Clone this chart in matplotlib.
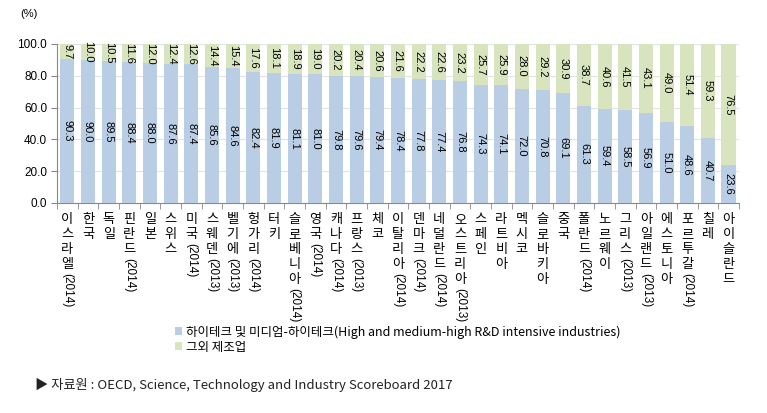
import matplotlib
matplotlib.use("Agg")
import matplotlib.pyplot as plt
import numpy as np
from matplotlib.patches import Patch

plt.rcParams['font.family'] = ['Liberation Sans', 'Noto Sans CJK KR', 'DejaVu Sans']

countries = ["이스라엘(2014)", "한국", "독일", "핀란드(2014)", "일본", "스위스", "미국(2014)",
             "스웨덴(2013)", "벨기에(2013)", "헝가리(2014)", "터키", "슬로베니아(2014)", "영국(2014)",
             "캐나다(2014)", "프랑스(2013)", "체코", "이탈리아(2014)", "덴마크(2014)", "네덜란드(2014)",
             "오스트리아(2013)", "스페인", "라트비아", "멕시코", "슬로바키아", "중국", "폴란드(2014)",
             "노르웨이", "그리스(2013)", "아일랜드(2013)", "에스토니아", "포르투갈(2014)", "칠레", "아이슬란드"]
high_tech = [90.3, 90.0, 89.5, 88.4, 88.0, 87.6, 87.4, 85.6, 84.6, 82.4, 81.9, 81.1, 81.0, 79.8,
             79.6, 79.4, 78.4, 77.8, 77.4, 76.8, 74.3, 74.1, 72.0, 70.8, 69.1, 61.3, 59.4, 58.5,
             56.9, 51.0, 48.6, 40.7, 23.6]
other_mfg = [9.7, 10.0, 10.5, 11.6, 12.0, 12.4, 12.6, 14.4, 15.4, 17.6, 18.1, 18.9, 19.0, 20.2,
             20.4, 20.6, 21.6, 22.2, 22.6, 23.2, 25.7, 25.9, 28.0, 29.2, 30.9, 38.7, 40.6, 41.5,
             43.1, 49.0, 51.4, 59.3, 76.5]
yticks = [0, 20, 40, 60, 80, 100]
legend_labels = ["하이테크 및 미디엄-하이테크(High and medium-high R&D intensive industries)", "그외 제조업"]
source_text = "▶ 자료원 : OECD, Science, Technology and Industry Scoreboard 2017"

c_blue = "#b9cde5"
c_green = "#d7e4bd"
kr = ['Noto Sans CJK KR', 'DejaVu Sans']

fig = plt.figure(figsize=(7.67, 4.13), dpi=100)
ax = fig.add_axes([0.0743, 0.5085, 0.889, 0.385])

x = np.arange(len(countries))
ax.bar(x, high_tech, width=0.68, color=c_blue, zorder=3)
ax.bar(x, other_mfg, width=0.68, bottom=high_tech, color=c_green, zorder=3)

for i, (a, b) in enumerate(zip(high_tech, other_mfg)):
    ax.text(i, a / 2, f"{a:.1f}", rotation=270, ha='center', va='center', fontsize=8, zorder=4)
    ax.text(i, a + b / 2, f"{b:.1f}", rotation=270, ha='center', va='center', fontsize=8, zorder=4)

ax.set_xlim(-0.5, len(countries) - 0.5)
ax.set_ylim(0, 100)
ax.set_yticks(yticks)
ax.set_yticklabels([f"{v:.1f}" for v in yticks], fontsize=8.5)
ax.yaxis.grid(True, color="#e3e3e3", linewidth=0.8, zorder=0)
ax.set_axisbelow(True)
for s in ['top', 'right']:
    ax.spines[s].set_visible(False)
ax.spines['left'].set_color('#888888')
ax.spines['bottom'].set_color('#888888')
ax.tick_params(axis='y', length=4, color='#888888', pad=3)
ax.set_xticks([])
ax.set_xticks(np.arange(-0.5, len(countries), 1), minor=True)
ax.tick_params(axis='x', which='minor', length=4, color='#888888')

# vertical category labels: upright Hangul stacked, parenthetical rotated
pitch = 10.8
start = 7.0
for i, name in enumerate(countries):
    if "(" in name:
        k = name.index("(")
        main, suffix = name[:k], name[k:]
    else:
        main, suffix = name, ""
    for j, ch in enumerate(main):
        ax.annotate(ch, xy=(i, 0), xycoords=('data', 'axes fraction'),
                    xytext=(0, -(start + j * pitch)), textcoords='offset points',
                    ha='center', va='top', fontsize=9.5, family=kr)
    if suffix:
        ax.annotate(suffix, xy=(i, 0), xycoords=('data', 'axes fraction'),
                    xytext=(0, -(start + len(main) * pitch + 0.5)), textcoords='offset points',
                    ha='center', va='top', rotation=270, fontsize=8.5)

fig.text(0.027, 0.965, "(%)", fontsize=8, ha='left', va='center')

handles = [Patch(facecolor=c_blue, edgecolor='none'), Patch(facecolor=c_green, edgecolor='none')]
fig.legend(handles, legend_labels, loc='upper left', bbox_to_anchor=(0.228, 0.212),
           frameon=False, fontsize=9, handlelength=0.6, handleheight=0.6,
           handletextpad=0.3, labelspacing=0.15, borderpad=0, borderaxespad=0,
           prop={'family': kr, 'size': 9})

fig.text(0.045, 0.068, source_text, fontsize=9.5, ha='left', va='center', family=kr, color='#222222')

fig.savefig("out.png", dpi=100)
